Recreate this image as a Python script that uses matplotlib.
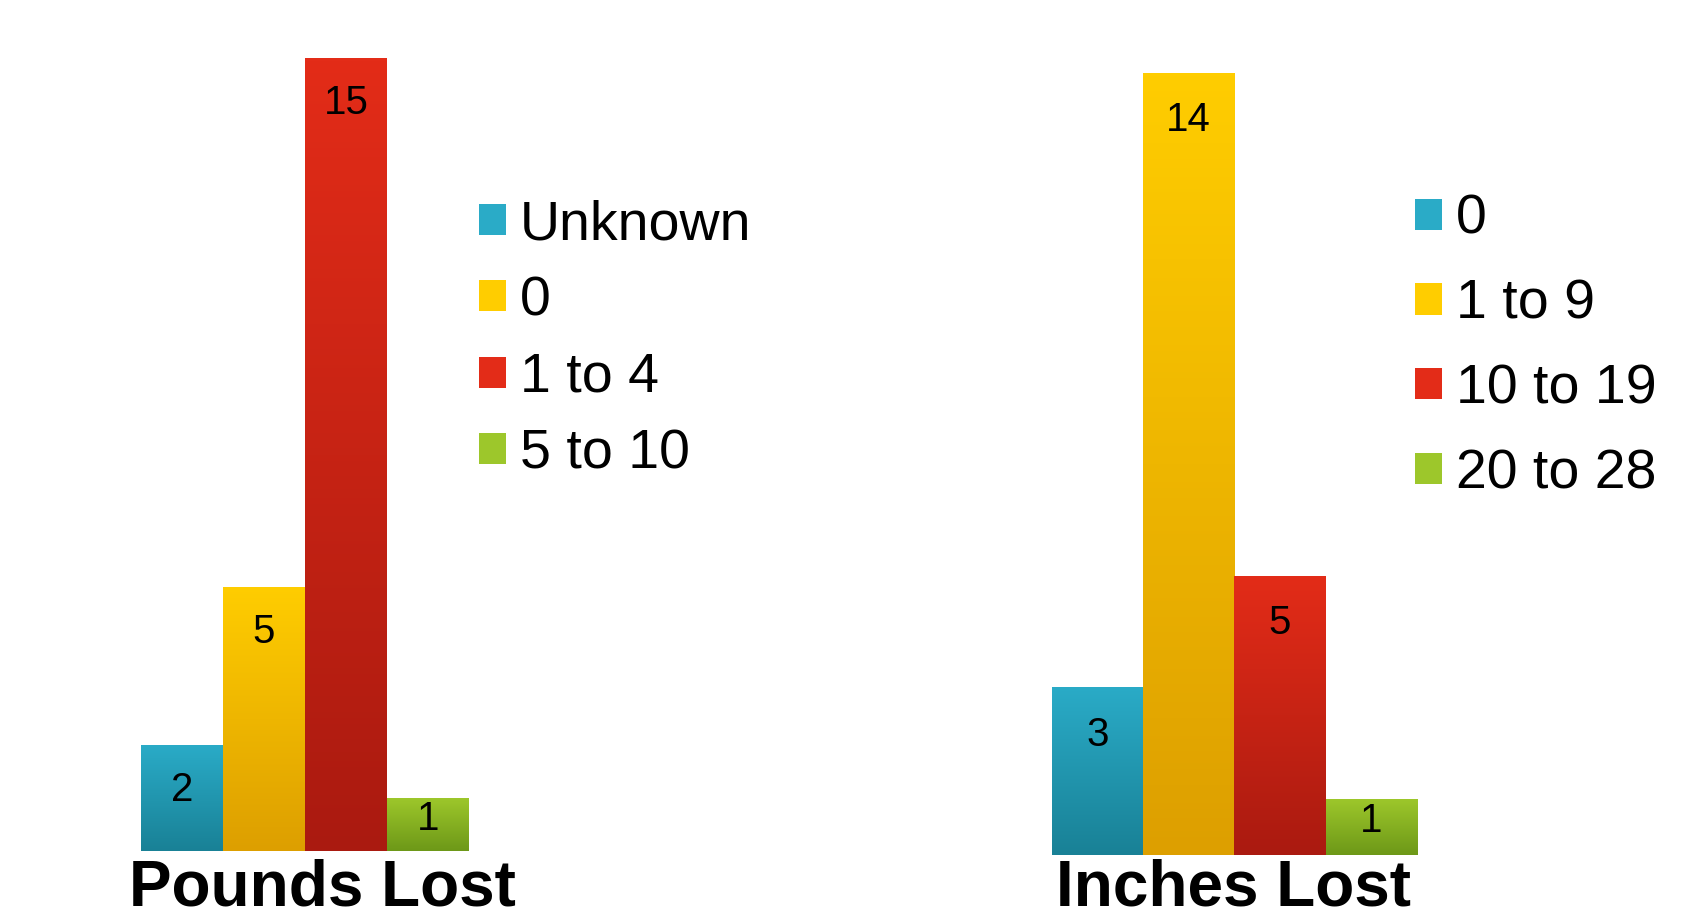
import matplotlib.pyplot as plt
import numpy as np
from matplotlib.patches import Patch
from matplotlib.colors import LinearSegmentedColormap

plt.rcParams['font.family'] = ['Liberation Sans', 'DejaVu Sans']

# Survey results
pounds_labels = ['Unknown', '0', '1 to 4', '5 to 10']
pounds_counts = [2, 5, 15, 1]
inches_labels = ['0', '1 to 9', '10 to 19', '20 to 28']
inches_counts = [3, 14, 5, 1]

# (top, bottom) colour of the vertical gradient on each bar
shades = [('#2aabc7', '#198196'), ('#ffcd00', '#dd9f00'),
          ('#e32c18', '#aa1a10'), ('#9dc72b', '#6d9818')]

W, H = 1686, 915
fig = plt.figure(figsize=(W / 100, H / 100), dpi=100)


def px(l, b, w, h):
    return [l / W, b / H, w / W, h / H]


def draw(ax, counts, labels, ymax, anchor, spacing):
    x = np.arange(len(counts))
    bars = ax.bar(x, counts, width=1.0, color=[s[0] for s in shades], linewidth=0)
    grad = np.linspace(0, 1, 256).reshape(-1, 1)
    for bar, (top, bot) in zip(bars, shades):
        cmap = LinearSegmentedColormap.from_list('g', [bot, top])
        x0, v = bar.get_x(), bar.get_height()
        im = ax.imshow(grad, cmap=cmap, origin='lower', aspect='auto',
                       extent=[x0, x0 + bar.get_width(), 0, v], zorder=2)
        im.set_clip_path(bar)
        # value printed near the top of the bar
        ly = v - 0.85 if v >= 2 else v * 0.6
        ax.text(x0 + bar.get_width() / 2, ly, str(v), ha='center', va='center',
                fontsize=29, zorder=3)
    ax.set_xlim(-0.5, len(counts) - 0.5)
    ax.set_ylim(0, ymax)
    ax.axis('off')

    handles = [Patch(facecolor=t) for t, b in shades]
    ax.legend(handles, labels, loc='upper left', bbox_to_anchor=anchor,
              bbox_transform=fig.transFigure, frameon=False, fontsize=40,
              handlelength=0.49, handleheight=0.49, handletextpad=0.25,
              labelspacing=spacing, borderpad=0, borderaxespad=0)


ax1 = fig.add_axes(px(141, 64, 328, 793))
draw(ax1, pounds_counts, pounds_labels, 15, (478.5 / W, (915 - 199) / H), 0.44)
fig.text(322 / W, 10 / H, 'Pounds Lost', ha='center', va='baseline',
         fontsize=46, fontweight='bold')

ax2 = fig.add_axes(px(1051.6, 60, 365.4, 782))
draw(ax2, inches_counts, inches_labels, 14, (1415 / W, (915 - 194) / H), 0.59)
fig.text(1233 / W, 10 / H, 'Inches Lost', ha='center', va='baseline',
         fontsize=46, fontweight='bold')

fig.savefig('out.png', dpi=100)
